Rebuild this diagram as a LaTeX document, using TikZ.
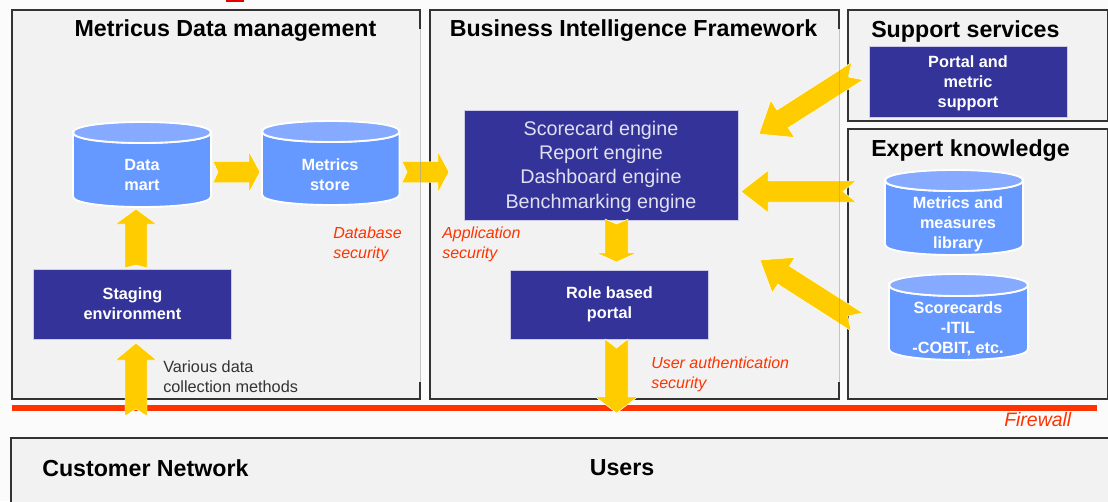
\documentclass[tikz,border=0pt]{standalone}
\usepackage{fontspec}
\setmainfont{Liberation Sans}
\usetikzlibrary{calc}
\newcommand\fsize[2]{\fontsize{#1pt}{#2pt}\selectfont}
\tikzset{
  x=0.75pt,y=-0.75pt,
  wh/.style 2 args={minimum width={#1*0.75pt},minimum height={#2*0.75pt},inner sep=0pt,outer sep=0pt},
  panel/.style={fill=panelgray,draw=none},
  panelline/.style={draw=paneledge,line width=0.9pt},
  ghostline/.style={draw=gray!75,line width=0.75pt,opacity=.6},
  darkbox/.style={fill=navy,draw=white!75!navy,line width=0.5pt,text=white,align=center,font=\bfseries\fsize{12.2}{15}},
  boxtext/.style={text=white,align=center,font=\bfseries\fsize{12.2}{15},inner sep=0pt},
  enginetext/.style={text=white!85!navy,align=center,font=\fsize{14.8}{18.2},inner sep=0pt},
  cyltext/.style={text=white,align=center,font=\bfseries\fsize{12.2}{15},inner sep=0pt},
  title/.style={font=\bfseries\fsize{17.4}{21},inner sep=0pt},
  redlabel/.style={text=fwred,align=left,font=\itshape\fsize{12}{15},inner sep=0pt},
  blocka/.style={fill=arrowyellow,draw=white,line width=0.35pt,line join=miter},
  cylbody/.style={fill=cylblue,draw=white,line width=1.4pt},
  cyltop/.style={fill=cyllight,draw=white,line width=1.4pt},
}
\definecolor{panelgray}{HTML}{F2F2F2}
\definecolor{paneledge}{HTML}{333333}
\definecolor{navy}{HTML}{333399}
\definecolor{cylblue}{HTML}{6699FF}
\definecolor{cyllight}{HTML}{85AAFF}
\definecolor{arrowyellow}{HTML}{FFCC00}
\definecolor{fwred}{HTML}{FF3300}
% tail, tip given as coordinates; half shaft, half head, head length, notch in px
\newcommand\blockarrow[6]{%
  \pgfmathsetlengthmacro\bw{#3*0.75pt}%
  \pgfmathsetlengthmacro\hw{#4*0.75pt}%
  \pgfmathsetlengthmacro\hl{#5*0.75pt}%
  \pgfmathsetlengthmacro\nn{#6*0.75pt}%
  \coordinate (sh) at ($(#2)!\hl!(#1)$);
  \coordinate (nt) at ($(#1)!\nn!(#2)$);
  \draw[blocka] ($(#1)!\bw!90:(#2)$) -- (nt) -- ($(#1)!\bw!-90:(#2)$)
    -- ($(sh)!\bw!-90:(#2)$) -- ($(sh)!\hw!-90:(#2)$) -- (#2)
    -- ($(sh)!\hw!90:(#2)$) -- ($(sh)!\bw!90:(#2)$) -- cycle;%
}
% name, x0, x1, ytop, ybot, ry, text x, text y, text
\newcommand\cyl[9]{%
  \pgfmathsetmacro\cyy{#6*4/3}%
  \pgfmathsetmacro\cya{#4+#6}%
  \pgfmathsetmacro\cyb{#5-#6}%
  \draw[cylbody] (#2,\cya) -- (#2,\cyb) .. controls +(0,\cyy) and (#3,\cyb+\cyy) .. (#3,\cyb) -- (#3,\cya)
     .. controls +(0,\cyy) and (#2,\cya+\cyy) .. (#2,\cya) -- cycle;
  \draw[cyltop] (#2,\cya) .. controls +(0,-\cyy) and (#3,\cya-\cyy) .. (#3,\cya)
     .. controls +(0,\cyy) and (#2,\cya+\cyy) .. (#2,\cya) -- cycle;
  \node[cyltext] (#1) at (#7,#8) {#9};%
}
\begin{document}
\begin{tikzpicture}
\useasboundingbox (0,0) rectangle (1108,501);
\fill[white!97!gray] (0,0) rectangle (1108,501);
\fill[red!90!black] (226,0) rectangle (244,2);
% panels
\node[panel,wh={408}{389}] (pdm) at (216,204.5) {};
\node[panel,wh={409}{389}] (pbi) at (634.5,204.5) {};
\node[panel,wh={260}{111},draw=paneledge,line width=0.9pt] (pss) at (978,65.5) {};
\node[panel,wh={260}{270},draw=paneledge,line width=0.9pt] (pek) at (978,264) {};
\node[panel,wh={1100}{70},draw=paneledge,line width=0.9pt] (pcn) at (561,473) {};
\draw[panelline] ($(pdm.north east)+(0,19)$) -- (pdm.north east) -- (pdm.north west) -- (pdm.south west) -- (pdm.south east) -- ($(pdm.south east)+(0,-17)$);
\draw[panelline] ($(pbi.north east)+(0,19)$) -- (pbi.north east) -- (pbi.north west) -- (pbi.south west) -- (pbi.south east) -- ($(pbi.south east)+(0,-17)$);
% firewall
\coordinate (fwa) at (12,408);
\coordinate (fwb) at (1097,408);
\draw[fwred,line width=4.6pt] (fwa) -- (fwb);
% titles
\node[title] (tdm) at (225.5,31) {Metricus Data management};
\node[title] (tbi) at (633.5,31) {Business Intelligence Framework};
\node[title,anchor=west] (tss) at (871,31) {Support services};
\node[title,anchor=west] (tek) at (871,151) {Expert knowledge};
\node[title,anchor=west] (tcn) at (42,468) {Customer Network};
\node[title] (tus) at (622,468) {Users};
% boxes
\node[darkbox,wh={198}{70}] (stg) at (132.5,304) {Staging\\environment};
\node[darkbox,wh={198}{69}] (rbp) at (609.5,304.5) {Role based\\portal};
\node[darkbox,wh={198}{71}] (psu) at (968,81.5) {};
\node[boxtext] (psut) at (968,83.5) {Portal and\\metric\\support};
\node[darkbox,wh={274}{110}] (eng) at (601,165) {};
\node[enginetext] (engt) at (601,166.5) {Scorecard engine\\Report engine\\Dashboard engine\\Benchmarking engine};
% cylinders
\cyl{dm}{73}{211}{122}{207}{10.5}{142}{175}{Data\\mart}
\cyl{ms}{262}{399.5}{121}{205}{10.5}{330}{175}{Metrics\\store}
\cyl{ml}{885}{1023}{170}{255}{10.5}{958}{224}{Metrics and\\measures\\library}
\cyl{sc}{889}{1028}{274}{360}{11}{958}{328.5}{Scorecards\\-ITIL\\-COBIT, etc.}
% arrow ends
\coordinate (a1) at (213,172);  \coordinate (b1) at (260,172);
\coordinate (a2) at (402,172);  \coordinate (b2) at (449,172);
\coordinate (a3) at (136,268);  \coordinate (b3) at (136,209);
\coordinate (a4) at (136,416);  \coordinate (b4) at (136,343);
\coordinate (a5) at (616.5,219);  \coordinate (b5) at (616.5,262);
\coordinate (a6) at (616.5,339);  \coordinate (b6) at (616.5,413);
\coordinate (a7) at (857.5,71);  \coordinate (b7) at (759,134);
\coordinate (a8) at (856,191.5); \coordinate (b8) at (741,191.5);
\coordinate (a9) at (857,322);  \coordinate (b9) at (760,260);
\blockarrow{a1}{b1}{10.5}{20.5}{11}{5}
\blockarrow{a2}{b2}{10.5}{20.5}{11}{5}
\blockarrow{a3}{b3}{11}{20.5}{15}{3}
\blockarrow{a4}{b4}{11}{20.5}{17}{7}
\blockarrow{a5}{b5}{11.5}{20}{9}{5}
\blockarrow{a6}{b6}{11.5}{21}{16}{9}
\blockarrow{a7}{b7}{10.5}{22}{28}{11}
\blockarrow{a8}{b8}{10.5}{21}{27}{13}
\blockarrow{a9}{b9}{10.8}{21}{28}{11}
% light right edges of the two main panels, lying over the arrows
\draw[ghostline] ($(pdm.north east)+(0,19)$) -- ($(pdm.south east)+(0,-17)$);
\draw[ghostline] ($(pbi.north east)+(0,19)$) -- ($(pbi.south east)+(0,-17)$);
% labels
\node[redlabel,anchor=west] (ldb) at (333,244) {Database\\security};
\node[redlabel,anchor=west] (lap) at (442,244) {Application\\security};
\node[redlabel,anchor=west] (lua) at (651,374) {User authentication\\security};
\node[redlabel,anchor=west,font=\itshape\fsize{14.6}{18}] (lfw) at (1004,419.5) {Firewall};
\node[anchor=west,align=left,inner sep=0pt,text=black!80,font=\fsize{12.2}{14.6}] (lvd) at (163,376.5) {Various data\\collection methods};
\end{tikzpicture}
\end{document}
